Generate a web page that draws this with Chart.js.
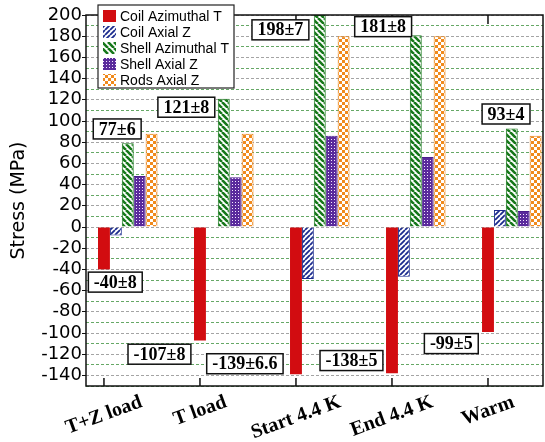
<!DOCTYPE html>
<html lang="en">
<head>
<meta charset="UTF-8">
<title>Stress</title>
<script src="https://cdn.jsdelivr.net/npm/chart.js"></script>
<style>
  html, body { margin: 0; padding: 0; background: #fff; }
  #wrap { width: 545px; height: 442px; }
</style>
</head>
<body>
<div id="wrap"><canvas id="grafico"></canvas></div>
<script>
// etapas do ensaio (eixo x)
const etapas = ['T+Z load', 'T load', 'Start 4.4 K', 'End 4.4 K', 'Warm'];

// tensoes (MPa)
const coilAzimutal = [-40, -107, -139, -138, -99];
const coilAxial = [-8, 0, -49, -47, 16];
const shellAzimutal = [79, 121, 200, 181, 93];
const shellAxial = [48, 47, 86, 66, 15];
const rodsAxial = [88, 88, 180, 180, 86];

const nomesSeries = ['Coil Azimuthal T', 'Coil Axial Z', 'Shell Azimuthal T', 'Shell Axial Z', 'Rods Axial Z'];

// caixas de texto com os valores medidos (posicao em unidades dos eixos)
const notas = ['77±6', '121±8', '198±7', '181±8', '93±4', '-40±8', '-107±8', '-139±6.6', '-138±5', '-99±5'];
const notasX = [0.89, 1.61, 2.59, 3.66, 4.94, 0.87, 1.33, 2.22, 3.33, 4.37];
const notasY = [92.5, 113, 186, 189, 106.6, -52, -120, -129, -126, -110];

// padroes de preenchimento
function listras(cor, sentido, t, lw) {
    const c = document.createElement('canvas');
    c.width = t; c.height = t;
    const g = c.getContext('2d');
    g.fillStyle = '#fff';
    g.fillRect(0, 0, t, t);
    g.strokeStyle = cor;
    g.lineWidth = lw;
    g.beginPath();
    for (let k = -1; k <= 1; k++) {
        if (sentido === '/') { g.moveTo(k * t, t); g.lineTo(k * t + t, 0); }
        else { g.moveTo(k * t, 0); g.lineTo(k * t + t, t); }
    }
    g.stroke();
    return g.createPattern(c, 'repeat');
}

function grade(cor) {
    const c = document.createElement('canvas');
    c.width = 3; c.height = 3;
    const g = c.getContext('2d');
    g.fillStyle = cor;
    g.fillRect(0, 0, 3, 3);
    g.fillStyle = '#f4e8ff';
    g.fillRect(1, 1, 1, 1);
    return g.createPattern(c, 'repeat');
}

function xadrez(cor) {
    const c = document.createElement('canvas');
    c.width = 6; c.height = 6;
    const g = c.getContext('2d');
    g.fillStyle = '#fff';
    g.fillRect(0, 0, 6, 6);
    g.fillStyle = cor;
    g.fillRect(0, 0, 3, 3);
    g.fillRect(3, 3, 3, 3);
    return g.createPattern(c, 'repeat');
}

const preenchimentos = [
    '#d20c10',
    listras('#1b2b8e', '/', 5, 1.8),
    listras('#17781b', '\\', 6, 2.6),
    grade('#5a2a9c'),
    xadrez('#f08a1c')
];
const bordas = ['#d20c10', '#1b2b8e', '#17781b', '#4a1d8c', '#e8841a'];

function serie(valores) {
    return valores.map((v, i) => ({ x: i + 1, y: v }));
}

const valoresSeries = [coilAzimutal, coilAxial, shellAzimutal, shellAxial, rodsAxial];

const datasets = valoresSeries.map((vals, k) => ({
    label: nomesSeries[k],
    data: serie(vals),
    backgroundColor: preenchimentos[k],
    borderColor: bordas[k],
    borderWidth: k === 0 ? 0 : 1
}));

// desenha moldura, marcas do eixo x, rotulos, caixas e legenda
const desenho = {
    id: 'desenho',
    afterDraw(chart) {
        const { ctx, chartArea: a, scales: { x, y } } = chart;
        ctx.save();

        // moldura
        ctx.strokeStyle = '#111';
        ctx.lineWidth = 1.5;
        ctx.strokeRect(a.left, a.top, a.right - a.left, a.bottom - a.top);

        // marcas e rotulos do eixo x, no centro da barra vermelha
        const barras = chart.getDatasetMeta(0).data;
        const ang = 20 * Math.PI / 180;
        ctx.font = 'bold 20px "Liberation Serif"';
        barras.forEach((b, i) => {
            ctx.beginPath();
            ctx.moveTo(b.x, a.bottom);
            ctx.lineTo(b.x, a.bottom - 8);
            ctx.moveTo(b.x, a.top);
            ctx.lineTo(b.x, a.top + 9);
            ctx.stroke();

            const w = ctx.measureText(etapas[i]).width;
            const cy = a.bottom + 9 + (w / 2) * Math.sin(ang) + 7 * Math.cos(ang);
            ctx.save();
            ctx.translate(b.x, cy);
            ctx.rotate(-ang);
            ctx.fillStyle = '#000';
            ctx.textAlign = 'center';
            ctx.textBaseline = 'middle';
            ctx.fillText(etapas[i], 0, 0);
            ctx.restore();
        });

        // caixas com os valores
        ctx.font = 'bold 18px "Liberation Serif"';
        ctx.textAlign = 'center';
        ctx.textBaseline = 'middle';
        notas.forEach((txt, i) => {
            const px = x.getPixelForValue(notasX[i]);
            const py = y.getPixelForValue(notasY[i]);
            const w = ctx.measureText(txt).width + 11;
            const h = 20;
            ctx.fillStyle = '#fff';
            ctx.fillRect(px - w / 2, py - h / 2, w, h);
            ctx.strokeStyle = '#111';
            ctx.lineWidth = 1.5;
            ctx.strokeRect(px - w / 2, py - h / 2, w, h);
            ctx.fillStyle = '#000';
            ctx.fillText(txt, px, py + 1);
        });

        // legenda
        const lx = a.left + 12, ly = a.top - 10;
        ctx.fillStyle = '#fff';
        ctx.fillRect(lx, ly, 136, 83);
        ctx.strokeStyle = '#222';
        ctx.lineWidth = 1.2;
        ctx.strokeRect(lx, ly, 136, 83);
        ctx.font = '14px "Liberation Sans"';
        ctx.textAlign = 'left';
        chart.data.datasets.forEach((ds, k) => {
            const ry = ly + 11 + k * 16;
            ctx.fillStyle = ds.backgroundColor;
            ctx.fillRect(lx + 5, ry - 6, 13, 12);
            ctx.fillStyle = '#000';
            ctx.fillText(ds.label, lx + 22, ry + 1);
        });

        ctx.restore();
    }
};

new Chart(document.getElementById('grafico'), {
    type: 'bar',
    data: { datasets: datasets },
    options: {
        responsive: true,
        maintainAspectRatio: false,
        animation: false,
        layout: { padding: { top: 15, right: 2, left: 0, bottom: 0 } },
        plugins: {
            legend: { display: false },
            tooltip: { enabled: false }
        },
        datasets: {
            bar: { categoryPercentage: 0.62, barPercentage: 1 }
        },
        scales: {
            x: {
                type: 'linear',
                min: 0.565,
                max: 5.325,
                offset: false,
                ticks: { display: false },
                grid: { display: false, offset: false },
                border: { display: false },
                afterBuildTicks: s => { s.ticks = etapas.map((_, i) => ({ value: i + 1 })); },
                afterFit: s => { s.height = 56; }
            },
            y: {
                min: -150,
                max: 200,
                ticks: {
                    stepSize: 10,
                    autoSkip: false,
                    padding: 0,
                    color: '#000',
                    font: { family: 'DejaVu Sans', size: 18 },
                    callback: v => (v % 20 === 0 ? v : '')
                },
                grid: {
                    color: c => (c.tick && c.tick.value % 20 === 0 ? '#a4a4a4' : '#66a866'),
                    tickColor: c => (c.tick && c.tick.value % 20 === 0 ? '#111' : 'rgba(0,0,0,0)'),
                    tickLength: 4,
                    lineWidth: 1
                },
                border: { display: false, dash: [3, 2] },
                title: {
                    display: true,
                    text: 'Stress (MPa)',
                    color: '#000',
                    font: { family: 'DejaVu Sans', size: 19 },
                    padding: { top: 8, bottom: 0 }
                },
                afterFit: s => { s.width = 86; }
            }
        }
    },
    plugins: [desenho]
});
</script>
</body>
</html>
